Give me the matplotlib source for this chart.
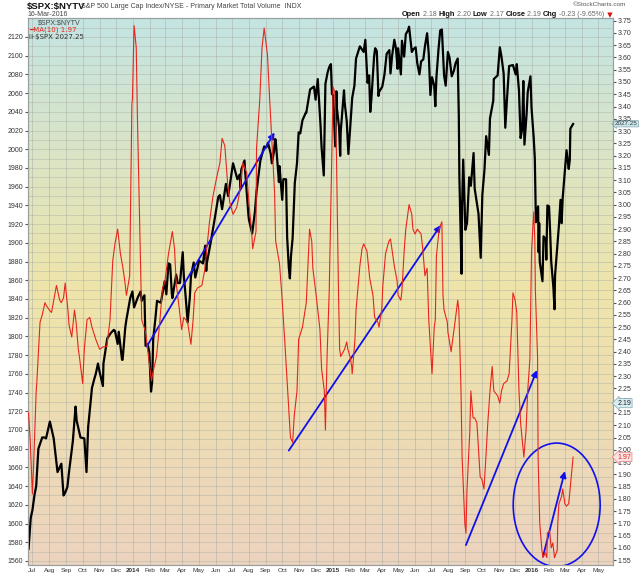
import numpy as np
import pandas as pd
import matplotlib
matplotlib.use('Agg')
import matplotlib.pyplot as plt
import matplotlib.dates as mdates
from matplotlib.patches import Ellipse
from matplotlib.colors import LinearSegmentedColormap

plt.rcParams['font.family'] = ['Liberation Sans', 'DejaVu Sans']

# S&P 500 (left axis), end-of-week closes
spx_dates = ['2013-06-24', '2013-06-28', '2013-07-05', '2013-07-12', '2013-07-19', '2013-07-26',
             '2013-08-02', '2013-08-09', '2013-08-16', '2013-08-23', '2013-08-30', '2013-09-06',
             '2013-09-13', '2013-09-20', '2013-09-27', '2013-10-04', '2013-10-11', '2013-10-18',
             '2013-10-25', '2013-11-01', '2013-11-08', '2013-11-15', '2013-11-22', '2013-11-29',
             '2013-12-06', '2013-12-13', '2013-12-20', '2013-12-27', '2013-12-31',
             '2014-01-03', '2014-01-10', '2014-01-17', '2014-01-24', '2014-01-31', '2014-02-03',
             '2014-02-07', '2014-02-14', '2014-02-21', '2014-02-28', '2014-03-07', '2014-03-14',
             '2014-03-21', '2014-03-28', '2014-04-04', '2014-04-11', '2014-04-17', '2014-04-25',
             '2014-05-02', '2014-05-09', '2014-05-16', '2014-05-23', '2014-05-30', '2014-06-06',
             '2014-06-13', '2014-06-20', '2014-06-27', '2014-07-03', '2014-07-11', '2014-07-18',
             '2014-07-25', '2014-07-31', '2014-08-07', '2014-08-15', '2014-08-22', '2014-08-29',
             '2014-09-05', '2014-09-12', '2014-09-19', '2014-09-26', '2014-10-03', '2014-10-10',
             '2014-10-15', '2014-10-17', '2014-10-24', '2014-10-31', '2014-11-07', '2014-11-14',
             '2014-11-21', '2014-11-28', '2014-12-05', '2014-12-12', '2014-12-16', '2014-12-19',
             '2014-12-26', '2014-12-31',
             '2015-01-09', '2015-01-16', '2015-01-23', '2015-01-30', '2015-02-06', '2015-02-13',
             '2015-02-20', '2015-02-27', '2015-03-06', '2015-03-11', '2015-03-13', '2015-03-20',
             '2015-03-27', '2015-04-02', '2015-04-10', '2015-04-17', '2015-04-24', '2015-05-01',
             '2015-05-08', '2015-05-15', '2015-05-21', '2015-05-29', '2015-06-05', '2015-06-12',
             '2015-06-19', '2015-06-26', '2015-06-29', '2015-07-02', '2015-07-08', '2015-07-10',
             '2015-07-17', '2015-07-20', '2015-07-24', '2015-07-31', '2015-08-07', '2015-08-14',
             '2015-08-21', '2015-08-24', '2015-08-25', '2015-08-28', '2015-09-04', '2015-09-11',
             '2015-09-18', '2015-09-25', '2015-09-29', '2015-10-02', '2015-10-09', '2015-10-16',
             '2015-10-23', '2015-10-30', '2015-11-03', '2015-11-06', '2015-11-13', '2015-11-20',
             '2015-11-27', '2015-12-04', '2015-12-11', '2015-12-18', '2015-12-24', '2015-12-31',
             '2016-01-08', '2016-01-15', '2016-01-20', '2016-01-22', '2016-01-29', '2016-02-05',
             '2016-02-11', '2016-02-12', '2016-02-19', '2016-02-26', '2016-03-04', '2016-03-11',
             '2016-03-16']
spx_close = [1573, 1606, 1631, 1680, 1692, 1691,
             1709, 1691, 1655, 1664, 1633, 1655,
             1688, 1710, 1692, 1691, 1703, 1745,
             1760, 1762, 1771, 1798, 1804, 1806,
             1805, 1775, 1818, 1841, 1848,
             1831, 1842, 1838, 1790, 1782, 1741,
             1797, 1838, 1836, 1859, 1878, 1841,
             1866, 1857, 1865, 1815, 1864, 1863,
             1881, 1878, 1878, 1900, 1924, 1949,
             1936, 1963, 1961, 1985, 1968, 1978,
             1978, 1931, 1910, 1955, 1988, 2003,
             2007, 1985, 2010, 1982, 1968, 1906,
             1862, 1886, 1964, 2018, 2031, 2039,
             2064, 2067, 2075, 2002, 1972, 2070,
             2088, 2059,
             2044, 2019, 2051, 1995, 2055, 2097,
             2110, 2104, 2071, 2040, 2053, 2108,
             2061, 2067, 2102, 2081, 2117, 2108,
             2116, 2123, 2131, 2107, 2092, 2094,
             2110, 2102, 2058, 2077, 2046, 2077,
             2127, 2128, 2079, 2104, 2078, 2092,
             1971, 1893, 1867, 1989, 1921, 1961,
             1958, 1931, 1884, 1951, 2014, 2033,
             2075, 2079, 2109, 2099, 2023, 2089,
             2090, 2091, 2012, 2005, 2061, 2044,
             1922, 1880, 1859, 1907, 1940, 1880,
             1829, 1865, 1918, 1948, 1999, 2022,
             2027]

# S&P 500, extra mid-week readings
spx_mid_dates = ['2013-07-01', '2013-07-08', '2013-07-23', '2013-08-01', '2013-08-27', '2013-09-03',
                 '2013-09-18', '2013-10-08', '2013-10-22', '2013-10-29', '2013-11-07', '2013-11-27',
                 '2013-12-04', '2013-12-12', '2013-12-18',
                 '2014-01-15', '2014-01-22', '2014-01-28', '2014-02-05', '2014-02-11', '2014-03-03',
                 '2014-03-10', '2014-03-13', '2014-03-24', '2014-04-02', '2014-04-07', '2014-04-15',
                 '2014-04-22', '2014-05-13', '2014-05-15', '2014-06-09', '2014-06-24', '2014-07-15',
                 '2014-07-17', '2014-07-24', '2014-08-01', '2014-08-12', '2014-09-02', '2014-09-10',
                 '2014-09-16', '2014-09-18', '2014-09-25', '2014-10-01', '2014-10-08', '2014-10-13',
                 '2014-10-20', '2014-10-28', '2014-11-03', '2014-11-13', '2014-12-01', '2014-12-10',
                 '2014-12-23', '2014-12-29',
                 '2015-01-02', '2015-01-06', '2015-01-08', '2015-01-13', '2015-01-15', '2015-01-22',
                 '2015-01-27', '2015-02-02', '2015-02-10', '2015-03-02', '2015-03-09', '2015-03-18',
                 '2015-03-23', '2015-03-26', '2015-04-06', '2015-04-15', '2015-04-20', '2015-04-27',
                 '2015-04-30', '2015-05-06', '2015-05-12', '2015-05-19', '2015-05-26', '2015-06-02',
                 '2015-06-09', '2015-06-16', '2015-06-23', '2015-07-06', '2015-07-14', '2015-07-27',
                 '2015-08-03', '2015-08-11', '2015-08-18', '2015-08-20', '2015-08-26', '2015-09-01',
                 '2015-09-08', '2015-09-16', '2015-09-22', '2015-10-06', '2015-10-14', '2015-10-22',
                 '2015-11-10', '2015-11-16', '2015-12-02', '2015-12-08', '2015-12-14', '2015-12-16',
                 '2015-12-22', '2015-12-29',
                 '2016-01-04', '2016-01-06', '2016-01-12', '2016-01-13', '2016-01-14', '2016-01-26',
                 '2016-01-27', '2016-02-01', '2016-02-03', '2016-02-09', '2016-02-16', '2016-02-22',
                 '2016-02-24', '2016-03-01', '2016-03-08', '2016-03-10']
spx_mid_close = [1614, 1640, 1692, 1706, 1630, 1639,
                 1725, 1655, 1754, 1771, 1747, 1807,
                 1792, 1775, 1810,
                 1848, 1844, 1792, 1751, 1819, 1845,
                 1877, 1846, 1857, 1890, 1845, 1842,
                 1879, 1897, 1870, 1951, 1950, 1973,
                 1958, 1988, 1925, 1933, 2002, 1995,
                 1998, 2011, 1965, 1946, 1968, 1874,
                 1905, 1985, 2017, 2039, 2053, 2026,
                 2082, 2091,
                 2058, 2003, 2062, 2023, 1993, 2063,
                 2030, 2021, 2068, 2117, 2079, 2099,
                 2105, 2057, 2080, 2106, 2100, 2108,
                 2086, 2080, 2099, 2127, 2104, 2109,
                 2080, 2096, 2124, 2068, 2108, 2068,
                 2098, 2084, 2097, 2035, 1940, 1914,
                 1970, 1996, 1943, 1979, 1994, 2052,
                 2081, 2053, 2080, 2063, 2022, 2073,
                 2038, 2078,
                 2012, 1990, 1939, 1890, 1921, 1903,
                 1882, 1939, 1912, 1852, 1895, 1946,
                 1921, 1978, 1979, 1989]

# MA(10) of $SPX:$NYTV (right axis)
ma_dates = ['2013-06-24', '2013-06-27', '2013-07-01', '2013-07-03', '2013-07-08', '2013-07-09',
            '2013-07-15', '2013-07-19', '2013-07-24', '2013-07-26', '2013-08-01', '2013-08-05',
            '2013-08-09', '2013-08-14', '2013-08-20', '2013-08-23', '2013-08-27', '2013-08-30',
            '2013-09-04', '2013-09-06', '2013-09-11', '2013-09-16', '2013-09-19', '2013-09-23',
            '2013-09-25', '2013-10-01', '2013-10-04', '2013-10-09', '2013-10-14', '2013-10-18',
            '2013-10-25', '2013-11-01', '2013-11-08', '2013-11-14', '2013-11-20', '2013-11-25',
            '2013-11-29', '2013-12-04', '2013-12-09', '2013-12-13', '2013-12-17', '2013-12-20',
            '2013-12-26', '2013-12-30', '2013-12-31', '2014-01-03', '2014-01-07', '2014-01-09',
            '2014-01-13', '2014-01-16', '2014-01-17', '2014-01-24', '2014-01-31', '2014-02-04',
            '2014-02-06', '2014-02-13', '2014-02-19', '2014-02-24', '2014-02-28', '2014-03-07',
            '2014-03-14', '2014-03-18', '2014-03-21', '2014-03-27', '2014-03-31', '2014-04-04',
            '2014-04-11', '2014-04-17', '2014-04-21', '2014-04-24', '2014-04-29', '2014-05-07',
            '2014-05-12', '2014-05-16', '2014-05-21', '2014-05-27', '2014-06-03', '2014-06-09',
            '2014-06-13', '2014-06-18', '2014-06-23', '2014-06-27', '2014-07-03', '2014-07-10',
            '2014-07-15', '2014-07-21', '2014-07-28', '2014-08-01', '2014-08-06', '2014-08-08',
            '2014-08-14', '2014-08-15', '2014-08-21', '2014-08-25', '2014-08-29', '2014-09-04',
            '2014-09-08', '2014-09-12', '2014-09-17', '2014-09-19', '2014-09-26', '2014-09-30',
            '2014-10-02', '2014-10-06', '2014-10-10', '2014-10-16', '2014-10-20', '2014-10-23',
            '2014-10-28', '2014-10-31', '2014-11-07', '2014-11-14', '2014-11-20', '2014-11-24',
            '2014-11-26', '2014-12-01', '2014-12-09', '2014-12-12', '2014-12-17', '2014-12-19',
            '2014-12-22', '2014-12-26', '2015-01-02', '2015-01-05', '2015-01-08', '2015-01-12',
            '2015-01-14', '2015-01-16', '2015-01-23', '2015-01-27', '2015-01-29', '2015-02-02',
            '2015-02-05', '2015-02-06', '2015-02-11', '2015-02-13', '2015-02-20', '2015-02-24',
            '2015-02-27', '2015-03-05', '2015-03-10', '2015-03-16', '2015-03-19', '2015-03-25',
            '2015-03-27', '2015-04-01', '2015-04-03', '2015-04-08', '2015-04-14', '2015-04-17',
            '2015-04-24', '2015-04-29', '2015-05-01', '2015-05-06', '2015-05-08', '2015-05-12',
            '2015-05-15', '2015-05-21', '2015-05-26', '2015-05-28', '2015-06-01', '2015-06-05',
            '2015-06-12', '2015-06-15', '2015-06-19', '2015-06-23', '2015-06-26', '2015-07-02',
            '2015-07-06', '2015-07-08', '2015-07-10', '2015-07-15', '2015-07-20', '2015-07-22',
            '2015-07-24', '2015-07-30', '2015-07-31', '2015-08-06', '2015-08-07', '2015-08-13',
            '2015-08-18', '2015-08-20', '2015-08-24', '2015-08-26', '2015-08-31', '2015-09-02',
            '2015-09-04', '2015-09-09', '2015-09-11', '2015-09-15', '2015-09-18', '2015-09-22',
            '2015-09-24', '2015-09-28', '2015-10-01', '2015-10-05', '2015-10-08', '2015-10-12',
            '2015-10-16', '2015-10-20', '2015-10-23', '2015-10-30', '2015-11-03', '2015-11-06',
            '2015-11-10', '2015-11-16', '2015-11-20', '2015-11-25', '2015-11-27', '2015-12-01',
            '2015-12-04', '2015-12-08', '2015-12-11', '2015-12-17', '2015-12-21', '2015-12-24',
            '2015-12-28', '2015-12-31', '2016-01-04', '2016-01-06', '2016-01-07', '2016-01-11',
            '2016-01-12', '2016-01-15', '2016-01-19', '2016-01-21', '2016-01-25', '2016-01-28',
            '2016-01-29', '2016-02-02', '2016-02-05', '2016-02-08', '2016-02-11', '2016-02-16',
            '2016-02-17', '2016-02-19', '2016-02-24', '2016-02-26', '2016-03-01', '2016-03-04',
            '2016-03-08', '2016-03-16']
ma_values = [2.15, 2.04, 1.82, 1.92, 2.24, 2.27,
             2.52, 2.55, 2.60, 2.59, 2.57, 2.56,
             2.61, 2.67, 2.61, 2.60, 2.62, 2.68,
             2.57, 2.51, 2.46, 2.57, 2.52, 2.41,
             2.38, 2.27, 2.41, 2.53, 2.54, 2.50,
             2.45, 2.41, 2.42, 2.42, 2.53, 2.77,
             2.84, 2.90, 2.80, 2.75, 2.69, 2.63,
             2.71, 3.41, 3.43, 3.73, 3.64, 3.37,
             2.96, 2.66, 2.53, 2.48, 2.35, 2.28,
             2.31, 2.38, 2.52, 2.66, 2.68, 2.80,
             2.89, 2.82, 2.68, 2.57, 2.49, 2.54,
             2.52, 2.43, 2.53, 2.64, 2.66, 2.67,
             2.73, 2.82, 2.93, 3.03, 3.11, 3.17,
             3.27, 3.24, 3.09, 3.01, 2.96, 2.99,
             3.05, 3.17, 3.13, 3.01, 2.89, 2.82,
             2.89, 3.23, 3.43, 3.64, 3.72, 3.61,
             3.43, 3.26, 3.05, 2.85, 2.76, 2.64,
             2.57, 2.43, 2.28, 2.05, 2.03, 2.14,
             2.24, 2.45, 2.50, 2.60, 2.90, 2.85,
             2.74, 2.65, 2.49, 2.33, 2.24, 2.08,
             2.38, 2.65, 3.48, 3.46, 3.23, 2.63,
             2.41, 2.38, 2.41, 2.44, 2.41, 2.38,
             2.34, 2.31, 2.45, 2.57, 2.75, 2.82,
             2.84, 2.81, 2.70, 2.63, 2.54, 2.52,
             2.50, 2.57, 2.67, 2.80, 2.85, 2.86,
             2.75, 2.69, 2.63, 2.61, 2.65, 2.81,
             2.90, 3.00, 2.96, 2.90, 2.88, 2.90,
             2.88, 2.82, 2.71, 2.74, 2.53, 2.31,
             2.50, 2.53, 2.79, 2.90, 2.93, 2.63,
             2.57, 2.52, 2.48, 2.40, 2.42, 2.52,
             2.61, 2.57, 2.24, 1.97, 1.70, 1.66,
             1.84, 2.07, 2.24, 2.13, 2.13, 2.11,
             2.04, 1.89, 1.88, 1.84, 1.95, 2.11,
             2.24, 2.34, 2.24, 2.22, 2.19, 2.24,
             2.27, 2.28, 2.31, 2.52, 2.64, 2.61,
             2.56, 2.24, 2.11, 1.97, 2.08, 2.24,
             2.37, 2.81, 2.97, 2.86, 2.65, 2.38,
             1.97, 1.70, 1.59, 1.56, 1.58, 1.56,
             1.66, 1.67, 1.60, 1.62, 1.56, 1.59,
             1.70, 1.78, 1.81, 1.84, 1.78, 1.77,
             1.78, 1.97]

month_labels = ['Jul', 'Aug', 'Sep', 'Oct', 'Nov', 'Dec', '2014', 'Feb', 'Mar', 'Apr', 'May', 'Jun',
                'Jul', 'Aug', 'Sep', 'Oct', 'Nov', 'Dec', '2015', 'Feb', 'Mar', 'Apr', 'May', 'Jun',
                'Jul', 'Aug', 'Sep', 'Oct', 'Nov', 'Dec', '2016', 'Feb', 'Mar', 'Apr', 'May']

spx = pd.concat([pd.Series(spx_close, index=pd.to_datetime(spx_dates)),
                 pd.Series(spx_mid_close, index=pd.to_datetime(spx_mid_dates))]).sort_index()
spx_x = mdates.date2num(spx.index)
ma_x = mdates.date2num(pd.to_datetime(ma_dates))
d = lambda s: mdates.date2num(pd.Timestamp(s))

fig = plt.figure(figsize=(6.4, 5.76), dpi=100)
ax = fig.add_axes([28 / 640, 11 / 576, 585 / 640, 547 / 576])

# background gradient
cmap = LinearSegmentedColormap.from_list('bg', [(0, '#ecd3bf'), (0.5, '#efe5a9'), (0.78, '#d8e4c9'), (1, '#c4e4e3')])
grad = np.linspace(0, 1, 256).reshape(-1, 1)
ax.imshow(grad, extent=[0, 1, 0, 1], transform=ax.transAxes, cmap=cmap, origin='lower',
          aspect='auto', zorder=0)

ax2 = ax.twinx()

ax.plot(spx_x, spx.values, color='black', lw=1.6, zorder=4)
ax2.plot(ma_x, ma_values, color='#e8251c', lw=0.8, zorder=3)

xmin, xmax = d('2013-06-23'), d('2016-05-28')
ax.set_xlim(xmin, xmax)
ax.set_ylim(1555.7, 2140.3)
ax2.set_ylim(1.530, 3.761)

month_ticks = mdates.date2num(pd.date_range('2013-07-01', '2016-05-01', freq='MS'))
ax.set_xticks(month_ticks)
ax.set_xticklabels(month_labels)
for lab in ax.get_xticklabels():
    if lab.get_text().startswith('20'):
        lab.set_fontweight('bold')
        lab.set_color('black')

ax.set_yticks(np.arange(1560, 2121, 20))
ax.set_yticks(np.arange(1560, 2140, 10), minor=True)
ax2.set_yticks(np.round(np.arange(1.55, 3.751, 0.05), 2))
ax2.yaxis.set_major_formatter(matplotlib.ticker.FormatStrFormatter('%.2f'))

ax.tick_params(axis='x', labelsize=4.6, length=0, pad=2, colors='#333333')
ax.tick_params(axis='y', which='major', labelsize=5, length=2, pad=1.5, colors='#555555', labelcolor='#333333')
ax.tick_params(axis='y', which='minor', length=0)
ax2.tick_params(axis='y', labelsize=5, length=2, pad=1.5, colors='#555555', labelcolor='#333333')

ax.grid(True, axis='x', color='#a9ada3', lw=0.5, alpha=0.7)
ax.grid(True, axis='y', which='both', color='#a9ada3', lw=0.5, alpha=0.6)
ax.set_axisbelow(True)
for a in (ax, ax2):
    for s in a.spines.values():
        s.set_color('#9aa0a0')
        s.set_linewidth(0.8)

# hand-drawn annotations
arrows = [(('2014-01-26', 1789), ('2014-09-17', 2018)),
          (('2014-10-13', 1678), ('2015-07-18', 1919)),
          (('2015-09-02', 1577), ('2016-01-10', 1764)),
          (('2016-01-21', 1565), ('2016-03-01', 1656))]
for (s0, v0), (s1, v1) in arrows:
    ax.annotate('', xy=(d(s1), v1), xytext=(d(s0), v0),
                arrowprops=dict(arrowstyle='-|>', color='#1010ee', lw=1.3, mutation_scale=9,
                                shrinkA=0, shrinkB=0), zorder=6)
ax.add_patch(Ellipse((d('2016-02-15'), 1620), width=159, height=132, fill=False,
                     ec='#1010ee', lw=1.2, zorder=6))

# legend inside
lx = lambda px: (px - 28) / 585
ly = lambda py: (565 - py) / 547
ax.text(lx(38), ly(23), r'\$SPX:\$NYTV', transform=ax.transAxes, fontsize=5, color='#444444', va='center')
ax.text(lx(29), ly(30), '━MA(10) 1.97', transform=ax.transAxes, fontsize=5, color='#e8251c', va='center',
        family=['DejaVu Sans'])
ax.text(lx(29), ly(37), r'⊪\$SPX 2027.25', transform=ax.transAxes, fontsize=5, color='#333333', va='center',
        family=['DejaVu Sans'])

# last value boxes on right axis
ax.annotate('2027.25', xy=(1.0, 2027.25), xycoords=('axes fraction', 'data'), xytext=(1.5, 0),
            textcoords='offset points', fontsize=4.5, va='center', color='#333333',
            bbox=dict(boxstyle='larrow,pad=0.1', fc='#c9e6ea', ec='#7fa7b0', lw=0.5), annotation_clip=False)
ax2.annotate('2.19', xy=(1.0, 2.19), xycoords=('axes fraction', 'data'), xytext=(3, 0),
             textcoords='offset points', fontsize=5, va='center', color='#222222',
             bbox=dict(boxstyle='larrow,pad=0.15', fc='#d8eef0', ec='#7fa7b0', lw=0.5), annotation_clip=False)
ax2.annotate('1.97', xy=(1.0, 1.97), xycoords=('axes fraction', 'data'), xytext=(3, 0),
             textcoords='offset points', fontsize=5, va='center', color='#e8251c',
             bbox=dict(boxstyle='larrow,pad=0.15', fc='#fbe3e3', ec='#e88080', lw=0.5), annotation_clip=False)

# header
fig.text(27 / 640, 1 - 7 / 576, r'\$SPX:\$NYTV', fontsize=6.8, fontweight='bold', va='center', color='#111111')
fig.text(81 / 640, 1 - 7 / 576, 'S&P 500 Large Cap Index/NYSE - Primary Market Total Volume  INDX',
         fontsize=5, va='center', color='#444444')
fig.text(27 / 640, 1 - 14.5 / 576, '16-Mar-2016', fontsize=5, va='center', color='#444444')
fig.text(626 / 640, 1 - 5 / 576, '©StockCharts.com', fontsize=4.6, va='center', ha='right', color='#555555')

pieces = [('Open', True, '#111111'), (' 2.18 ', False, '#666666'), ('High', True, '#111111'),
          (' 2.20 ', False, '#666666'), ('Low', True, '#111111'), (' 2.17 ', False, '#666666'),
          ('Close', True, '#111111'), (' 2.19 ', False, '#666666'), ('Chg', True, '#111111'),
          (' -0.23 (-9.65%)', False, '#666666'), (' ▼', False, '#dd1111')]
prev = None
for txt, bold, col in pieces:
    fam = ['DejaVu Sans'] if '▼' in txt else ['Liberation Sans', 'DejaVu Sans']
    if prev is None:
        prev = fig.text(402 / 640, 1 - 14.5 / 576, txt, fontsize=5.3, va='center',
                        fontweight='bold', color=col, family=fam)
    else:
        prev = plt.annotate(txt, xy=(1, 0), xycoords=prev, xytext=(0, 0), textcoords='offset points',
                            fontsize=5.3 if bold else 5, fontweight='bold' if bold else 'normal',
                            color=col, va='bottom', family=fam, annotation_clip=False)

fig.savefig('out.png', dpi=100)
